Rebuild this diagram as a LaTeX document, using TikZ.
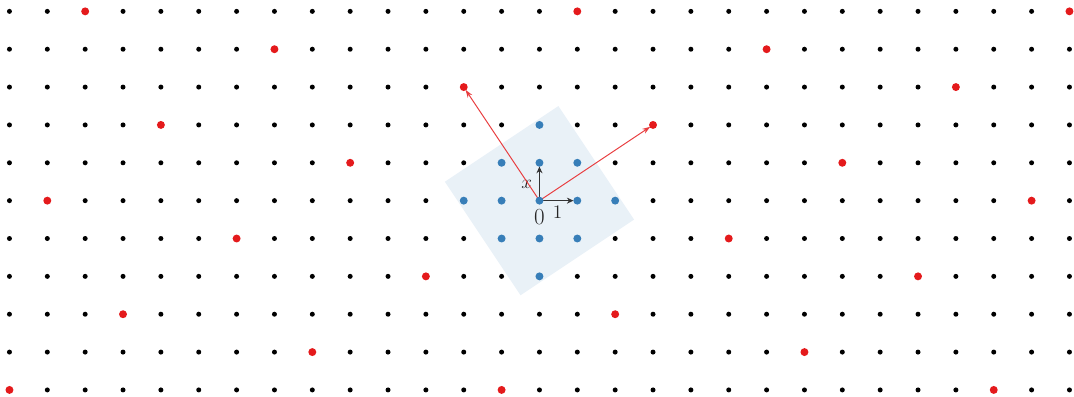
\documentclass[tikz,border=0pt]{standalone}
\usetikzlibrary{arrows.meta}
\definecolor{setred}{HTML}{E41A1C}
\definecolor{setblue}{HTML}{377EB8}
\begin{document}
\begin{tikzpicture}[x=1cm,y=1cm,
  blackdot/.style={fill=black},
  reddot/.style={fill=setred},
  bluedot/.style={fill=setblue},
  redarrow/.style={draw=setred!85,line width=0.75pt,-{Stealth[length=6pt,width=4pt]},shorten >=2.5pt},
  basisarrow/.style={draw=black!80,line width=1pt,-{Stealth[length=5pt,width=4.5pt]}},
  lbl/.style={inner sep=0pt,text=black!85}
]
\useasboundingbox (-14.25,-5.165) rectangle (14.12,5.30);
\coordinate (O) at (0,0);
\coordinate (A) at (-2,3);
\coordinate (B) at (3,2);
\coordinate (E1) at (0.9,0);
\coordinate (E2) at (0,0.9);
% fundamental domain
\fill[setblue,opacity=0.11] (0.5,2.5) -- (2.5,-0.5) -- (-0.5,-2.5) -- (-2.5,0.5) -- cycle;
% lattice
\foreach \i in {-14,...,14}{
  \foreach \j in {-5,...,5}{
    \pgfmathtruncatemacro\r{mod(3*\i+2*\j,13)}
    \pgfmathtruncatemacro\d{abs(\i)+abs(\j)}
    \ifnum\d<3\relax
    \else
      \ifnum\r=0\relax
        \fill[reddot] (\i,\j) circle (0.105);
      \else
        \fill[blackdot] (\i,\j) circle (0.066);
      \fi
    \fi
  }
}
% labels
\node[lbl] (lx) at (-0.34,0.44) {\Large $x$};
\node[lbl] (l1) at (0.48,-0.31) {\Large $1$};
\node[lbl] (l0) at (0,-0.44) {\LARGE $0$};
% arrows
\draw[redarrow] (O) -- (A);
\draw[redarrow] (O) -- (B);
\draw[basisarrow] (O) -- (E1);
\draw[basisarrow] (O) -- (E2);
% blue points
\foreach \i in {-2,...,2}{
  \foreach \j in {-2,...,2}{
    \pgfmathtruncatemacro\d{abs(\i)+abs(\j)}
    \ifnum\d<3\relax
      \fill[bluedot] (\i,\j) circle (0.105);
    \fi
  }
}
\end{tikzpicture}
\end{document}
